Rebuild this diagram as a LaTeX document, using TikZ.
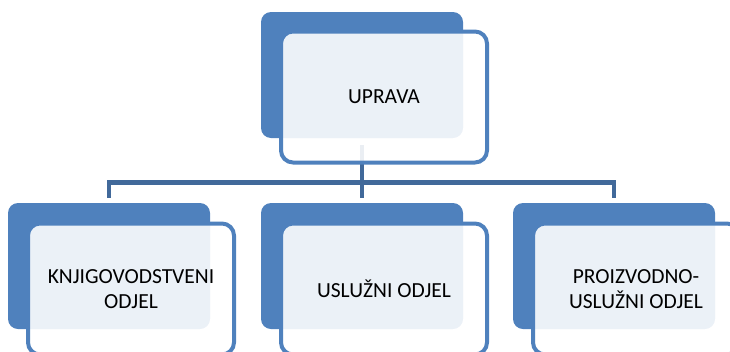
\documentclass[tikz,border=0pt]{standalone}
\usepackage{fontspec}
\setmainfont{Carlito}
\definecolor{boxblue}{HTML}{4F81BD}
\definecolor{linkblue}{HTML}{41699A}
\tikzset{
    backbox/.style={rectangle, rounded corners=10pt, fill=boxblue, inner sep=0pt,
        minimum width=202pt, minimum height=126pt},
    frontbox/.style={rectangle, rounded corners=12pt, draw=boxblue, line width=4pt,
        fill=white, fill opacity=0.89, text opacity=1, inner sep=0pt,
        minimum width=206pt, minimum height=131pt, align=center,
        font=\fontsize{21.5}{25}\selectfont},
    link/.style={draw=linkblue, line width=4.5pt}
}
\begin{document}
\begin{tikzpicture}[x=1pt,y=-1pt]
                \useasboundingbox (0,0) rectangle (730,351);
                \node[backbox] (upravaB) at (362,75) {};
                \node[backbox] (knjigB) at (109,266) {};
                \node[backbox] (usluzB) at (362,266) {};
                \node[backbox] (proizB) at (614,266) {};
                \draw[link, shorten <=7pt] (upravaB.south) -- ++(0,44.5) coordinate (bus);
                \draw[link, shorten >=5pt] (bus) -| (knjigB.north);
                \draw[link, shorten >=5pt] (bus) -| (proizB.north);
                \draw[link, shorten >=5pt] (bus) -- (usluzB.north);
                \node[frontbox] (uprava) at (384,97) {UPRAVA};
                \node[frontbox] (knjig) at (131,289) {KNJIGOVODSTVENI\\ODJEL};
                \node[frontbox] (usluz) at (384,289) {USLUŽNI ODJEL};
                \node[frontbox] (proiz) at (636,289) {PROIZVODNO-\\USLUŽNI ODJEL};
                \end{tikzpicture}
\end{document}
